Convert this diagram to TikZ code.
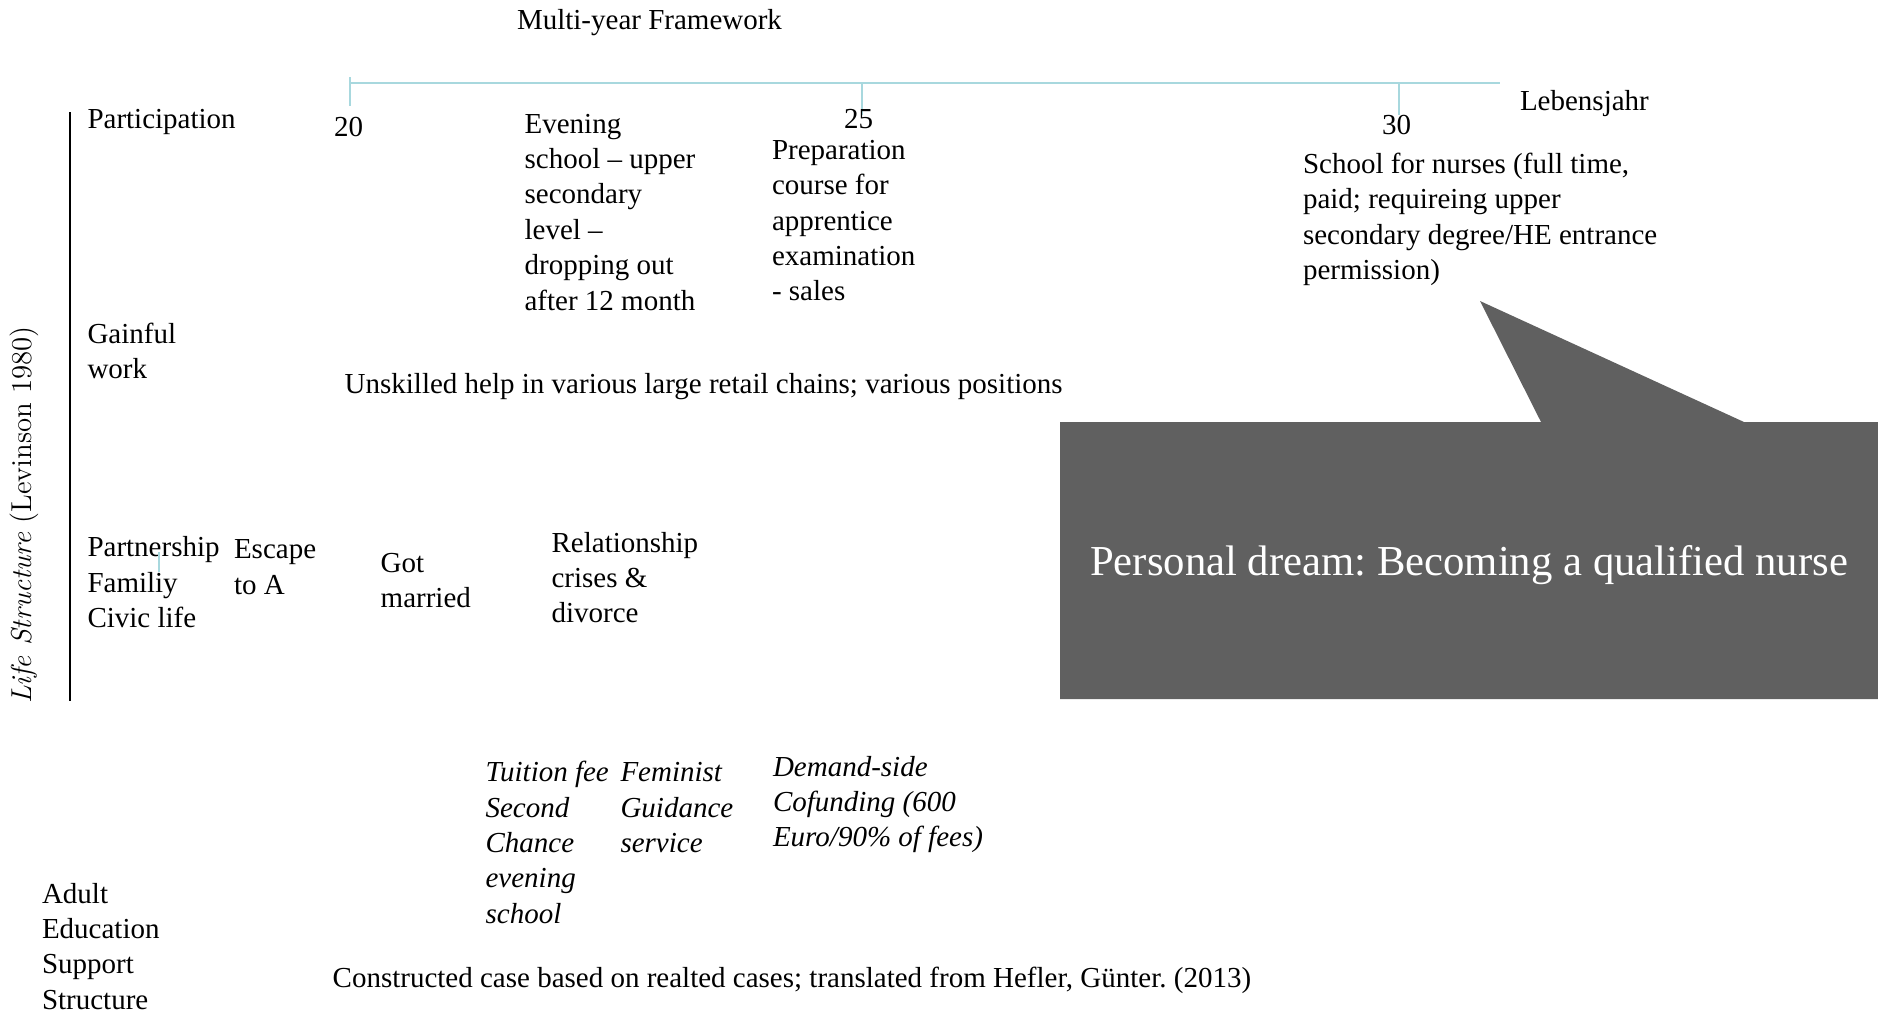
\documentclass[tikz,border=0pt]{standalone}
\usepackage{fontspec}
\newfontfamily\tnr{Liberation Serif}
\definecolor{tlblue}{RGB}{168,216,222}
\definecolor{dreamgray}{RGB}{96,96,96}
\newcommand{\mlines}[1]{\begin{tabular}[t]{@{}l@{}}#1\end{tabular}}
\frenchspacing
\tikzset{
  txt/.style={font=\tnr\fontsize{14.5}{17.7}\selectfont, anchor=base west, inner sep=0pt, outer sep=0pt},
  itxt/.style={txt, font=\tnr\itshape\fontsize{14.5}{17.7}\selectfont},
  tline/.style={draw=tlblue, line width=1pt},
  axisline/.style={draw=black, line width=0.9pt}
}
\begin{document}
\frenchspacing
\begin{tikzpicture}[x=0.5pt,y=-0.5pt]
\useasboundingbox (0,0) rectangle (1878,1014);

% title
\node[txt] (title) at (517,29) {Multi-year Framework};

% timeline
\coordinate (t0) at (350,82.5);
\coordinate (t1) at (1500,82.5);
\coordinate (k20a) at (350,77);
\coordinate (k20b) at (350,106);
\coordinate (k25a) at (862,82.5);
\coordinate (k25b) at (862,115);
\coordinate (k30a) at (1399,82.5);
\coordinate (k30b) at (1399,115);
\draw[tline] (t0) -- (t1);
\draw[tline] (k20a) -- (k20b);
\draw[tline] (k25a) -- (k25b);
\draw[tline] (k30a) -- (k30b);

\node[txt] (y20) at (334,136) {20};
\node[txt] (y25) at (844,128) {25};
\node[txt] (y30) at (1382,134) {30};
\node[txt] (lj) at (1520,110) {Lebensjahr};

% left axis
\coordinate (ax0) at (70,112);
\coordinate (ax1) at (70,701);
\draw[axisline] (ax0) -- (ax1);
\node[rotate=90, inner sep=0pt, font=\fontsize{14.4}{17}\selectfont] (ls) at (24,515) {\textit{Life Structure} (Levinson 1980)};

% row labels
\node[txt] (part) at (87.5,128) {Participation};
\node[txt] (gain) at (87.5,343) {\mlines{Gainful\\work}};
\node[txt] (pfc) at (87.5,556.6) {\mlines{Partnership\\Familiy\\Civic life}};
\node[txt] (aes) at (42,903) {\mlines{Adult\\Education\\Support\\Structure}};

% participation entries
\node[txt] (eve) at (524.6,133) {\mlines{Evening\\school – upper\\secondary\\level –\\dropping out\\after 12 month}};
\node[txt] (prep) at (772,159.3) {\mlines{Preparation\\course for\\apprentice\\examination\\- sales}};
\node[txt] (nurse) at (1303,173.3) {\mlines{School for nurses (full time,\\paid; requireing upper\\secondary degree/HE entrance\\permission)}};

% gainful work
\node[txt] (unsk) at (344.7,393) {Unskilled help in various large retail chains; various positions};

% partnership entries
\coordinate (pt0) at (159,552);
\coordinate (pt1) at (159,572);
\draw[tline, line width=0.6pt] (pt0) -- (pt1);
\node[txt] (esc) at (234,558.6) {\mlines{Escape\\to A}};
\node[txt] (got) at (380.7,572) {\mlines{Got\\married}};
\node[txt] (rel) at (551.6,552) {\mlines{Relationship\\crises \&\\divorce}};

% support structure entries
\node[itxt] (tui) at (485.6,781.7) {\mlines{Tuition fee\\Second\\Chance\\evening\\school}};
\node[itxt] (fem) at (620.5,781.7) {\mlines{Feminist\\Guidance\\service}};
\node[itxt] (dem) at (773,776) {\mlines{Demand-side\\Cofunding (600\\Euro/90\% of fees)}};

% source
\node[txt] (src) at (332.7,987) {Constructed case based on realted cases; translated from Hefler, Günter. (2013)};

% callout
\fill[dreamgray] (1060,422) -- (1541,422) -- (1480,301) -- (1744,422) -- (1878,422) -- (1878,699) -- (1060,699) -- cycle;
\node[font=\tnr\fontsize{21.35}{25}\selectfont, text=white, anchor=base, inner sep=0pt] (dream) at (1469,575) {Personal dream: Becoming a qualified nurse};
\end{tikzpicture}
\end{document}
